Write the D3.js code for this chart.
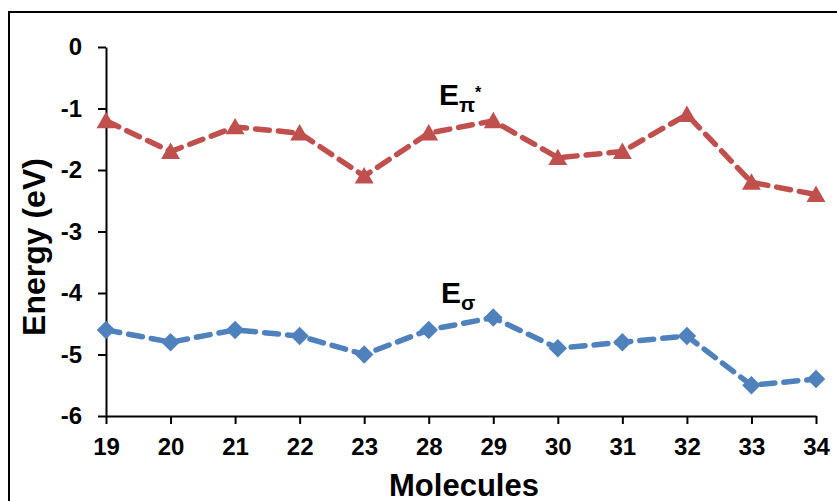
<!DOCTYPE html>
<html>
<head>
<meta charset="utf-8">
<script src="https://cdn.jsdelivr.net/npm/d3@7"></script>
<style>
  html, body { margin: 0; padding: 0; background: #fff; }
  svg { display: block; font-family: "Liberation Sans", Arial, sans-serif; }
  .tick text { font-size: 24px; font-weight: bold; font-family: "Liberation Sans", Arial, sans-serif; }
</style>
</head>
<body>
<svg id="chart" width="837" height="501"></svg>
<script>
// Molecule identifiers along the x axis
const molecules = ["19", "20", "21", "22", "23", "28", "29", "30", "31", "32", "33", "34"];
// Orbital energies (eV)
const ePiStar = [-1.2, -1.7, -1.3, -1.4, -2.1, -1.4, -1.2, -1.8, -1.7, -1.1, -2.2, -2.4];
const eSigma  = [-4.6, -4.8, -4.6, -4.7, -5.0, -4.6, -4.4, -4.9, -4.8, -4.7, -5.5, -5.4];
const yTicks  = [0, -1, -2, -3, -4, -5, -6];

const svg = d3.select("#chart");

// outer frame
svg.append("rect")
  .attr("x", 9).attr("y", 12)
  .attr("width", 860).attr("height", 520)
  .attr("fill", "none").attr("stroke", "#000").attr("stroke-width", 2);

const x = d3.scalePoint().domain(molecules).range([106, 816]);
const y = d3.scaleLinear().domain([-6, 0]).range([416, 47]);

// y axis
const yAxis = svg.append("g")
  .attr("transform", "translate(106,0)")
  .call(d3.axisLeft(y).tickValues(yTicks).tickSize(8).tickPadding(16).tickSizeOuter(0)
        .tickFormat(d => String(d)));
// x axis
const xAxis = svg.append("g")
  .attr("transform", "translate(0,416)")
  .call(d3.axisBottom(x).tickSize(8).tickPadding(14).tickSizeOuter(0));

[yAxis, xAxis].forEach(g => {
  g.attr("font-size", null).attr("font-family", null);
  g.select(".domain").attr("stroke", "#000").attr("stroke-width", 2);
  g.selectAll(".tick line").attr("stroke", "#000").attr("stroke-width", 2);
  g.selectAll(".tick text").attr("fill", "#000");
});

// axis titles
svg.append("text")
  .attr("x", 464).attr("y", 496)
  .attr("text-anchor", "middle")
  .style("font-size", "31px").style("font-weight", "bold")
  .text("Molecules");
svg.append("text")
  .attr("transform", "translate(45,247) rotate(-90)")
  .attr("text-anchor", "middle")
  .style("font-size", "32px").style("font-weight", "bold")
  .text("Energy (eV)");

const line = d3.line().x((d, i) => x(molecules[i])).y(d => y(d));

// marker shapes
const diamond = {
  draw(ctx, size) {
    const r = Math.sqrt(size) / 1.6;
    ctx.moveTo(0, -r); ctx.lineTo(r, 0); ctx.lineTo(0, r); ctx.lineTo(-r, 0); ctx.closePath();
  }
};
const triangle = {
  draw(ctx, size) {
    const r = Math.sqrt(size) / 2;
    ctx.moveTo(0, -r * 1.1); ctx.lineTo(r * 1.15, r * 0.9); ctx.lineTo(-r * 1.15, r * 0.9); ctx.closePath();
  }
};

function drawSeries(values, color, symbolType, size) {
  svg.append("path")
    .datum(values)
    .attr("d", line)
    .attr("fill", "none")
    .attr("stroke", color)
    .attr("stroke-width", 5.5)
    .attr("stroke-dasharray", "14,9")
    .attr("stroke-linecap", "round");
  svg.append("g").selectAll("path")
    .data(values)
    .join("path")
    .attr("transform", (d, i) => `translate(${x(molecules[i])},${y(d)})`)
    .attr("d", d3.symbol().type(symbolType).size(size))
    .attr("fill", color);
}

drawSeries(ePiStar, "#c0504d", triangle, 270);
drawSeries(eSigma, "#4f81bd", diamond, 220);

// series labels
function seriesLabel(xp, yp, sub, sup) {
  const t = svg.append("text").attr("x", xp).attr("y", yp)
    .style("font-size", "30px").style("font-weight", "bold");
  t.append("tspan").text("E");
  t.append("tspan").attr("dy", 7).style("font-size", "21px").text(sub);
  if (sup) t.append("tspan").attr("dy", -14).style("font-size", "16px").text(sup);
}
seriesLabel(439, 105, "π", "*");
seriesLabel(441, 303, "σ", null);
</script>
</body>
</html>
